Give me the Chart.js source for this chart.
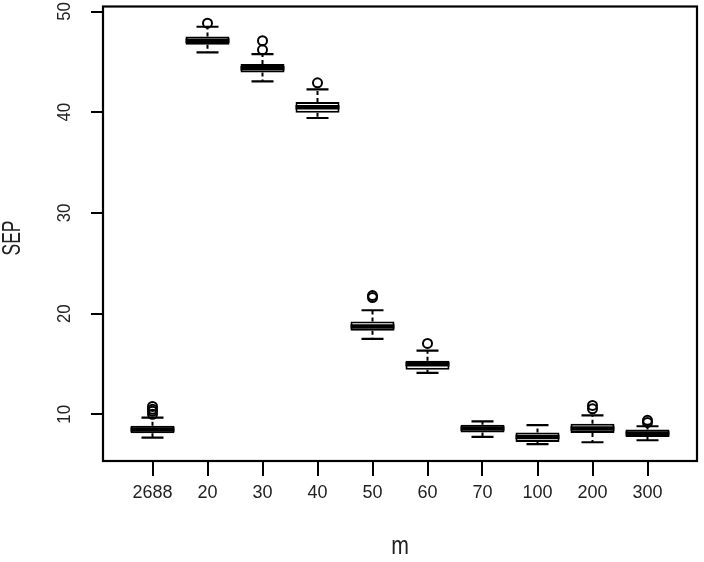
<!DOCTYPE html>
<html lang="en">
<head>
  <meta charset="UTF-8" />
  <title>SEP by m</title>
  <script src="https://cdn.jsdelivr.net/npm/chart.js"></script>
  <style>
    html, body {
      margin: 0;
      padding: 0;
      background: #fff;
    }
    #chart-container {
      width: 704px;
      height: 562px;
    }
  </style>
</head>
<body>
  <div id="chart-container">
    <canvas id="sepChart"></canvas>
  </div>

  <script>
    // values, one entry per m
    const categories = ['2688', '20', '30', '40', '50', '60', '70', '100', '200', '300'];
    const whiskerLow = [7.70, 45.95, 43.06, 39.43, 17.50, 14.12, 7.76, 7.04, 7.23, 7.43];
    const boxQ1 = [8.12, 46.71, 43.95, 39.96, 18.30, 14.44, 8.19, 7.26, 8.16, 7.76];
    const boxMedian = [8.50, 47.10, 44.37, 40.49, 18.72, 14.97, 8.60, 7.76, 8.60, 8.10];
    const boxQ3 = [8.87, 47.53, 44.80, 41.01, 19.22, 15.33, 8.98, 8.19, 9.08, 8.49];
    const whiskerHigh = [9.67, 48.49, 45.78, 42.27, 20.34, 16.32, 9.31, 8.94, 9.90, 8.82];
    const outliers = [
      [10.0, 10.3, 10.5, 10.79],
      [48.84],
      [46.2, 47.1],
      [42.92],
      [21.6, 21.8],
      [17.04],
      [],
      [],
      [10.55, 10.89],
      [9.2, 9.41]
    ];
    const yTicks = [10, 20, 30, 40, 50];

    const FONT = 'Liberation Sans, Arial, sans-serif';
    const INK = '#000';
    const TEXT = '#222';

    const boxData = categories.map((c, i) => ({ x: i + 1, y: [boxQ1[i], boxQ3[i]] }));
    const outlierData = [];
    outliers.forEach((list, i) => list.forEach(v => outlierData.push({ x: i + 1, y: v })));

    // text squeezed sideways like the R device output
    function squeezedText(ctx, text, x, y, size, sx, angle) {
      ctx.save();
      ctx.translate(x, y);
      ctx.rotate(angle);
      ctx.scale(sx, 1);
      ctx.font = size + 'px ' + FONT;
      ctx.fillText(text, 0, 0);
      ctx.restore();
    }

    // whiskers, medians, frame and rotated texts (R style)
    const boxplotExtras = {
      id: 'boxplotExtras',
      afterDatasetsDraw(chart) {
        const { ctx, scales: { x, y } } = chart;
        const meta = chart.getDatasetMeta(0);
        ctx.save();
        ctx.strokeStyle = INK;
        categories.forEach((c, i) => {
          const cx = x.getPixelForValue(i + 1);
          const half = meta.data[i].width / 2;
          const cap = half / 2;
          // dashed whisker stems
          ctx.lineWidth = 2;
          ctx.setLineDash([4, 3]);
          ctx.beginPath();
          ctx.moveTo(cx, y.getPixelForValue(boxQ3[i]));
          ctx.lineTo(cx, y.getPixelForValue(whiskerHigh[i]));
          ctx.moveTo(cx, y.getPixelForValue(boxQ1[i]));
          ctx.lineTo(cx, y.getPixelForValue(whiskerLow[i]));
          ctx.stroke();
          ctx.setLineDash([]);
          // staples
          ctx.lineWidth = 2.2;
          ctx.beginPath();
          [whiskerHigh[i], whiskerLow[i]].forEach(v => {
            const py = y.getPixelForValue(v);
            ctx.moveTo(cx - cap, py);
            ctx.lineTo(cx + cap, py);
          });
          ctx.stroke();
          // median
          ctx.lineWidth = 4.5;
          ctx.beginPath();
          const my = y.getPixelForValue(boxMedian[i]);
          ctx.moveTo(cx - half, my);
          ctx.lineTo(cx + half, my);
          ctx.stroke();
        });
        ctx.restore();
      },
      afterDraw(chart) {
        const { ctx, chartArea: a, scales: { y } } = chart;
        ctx.save();
        ctx.strokeStyle = INK;
        ctx.lineWidth = 2.2;
        ctx.strokeRect(a.left, a.top, a.right - a.left, a.bottom - a.top);

        ctx.fillStyle = TEXT;
        ctx.textAlign = 'center';
        ctx.textBaseline = 'middle';
        yTicks.forEach(v => {
          squeezedText(ctx, String(v), 65, y.getPixelForValue(v), 19, 0.88, -Math.PI / 2);
        });
        squeezedText(ctx, 'SEP', 13, 238, 25, 0.7, -Math.PI / 2);
        squeezedText(ctx, 'm', (a.left + a.right) / 2, 547, 25, 0.85, 0);
        ctx.restore();
      }
    };

    const ctx = document.getElementById('sepChart').getContext('2d');
    const sepChart = new Chart(ctx, {
      type: 'bar',
      data: {
        datasets: [
          {
            type: 'bar',
            data: boxData,
            backgroundColor: '#fff',
            borderColor: INK,
            borderWidth: 2,
            borderSkipped: false,
            barPercentage: 0.8,
            categoryPercentage: 1,
            order: 2
          },
          {
            type: 'scatter',
            data: outlierData,
            pointStyle: 'circle',
            pointRadius: 4.5,
            pointBackgroundColor: 'rgba(0,0,0,0)',
            pointBorderColor: INK,
            pointBorderWidth: 2,
            order: 1
          }
        ]
      },
      options: {
        responsive: true,
        maintainAspectRatio: false,
        animation: false,
        layout: { padding: { top: 3, right: 7, left: 0, bottom: 0 } },
        plugins: {
          legend: { display: false },
          tooltip: { enabled: false }
        },
        scales: {
          x: {
            type: 'linear',
            offset: false,
            min: 0.1,
            max: 10.9,
            afterBuildTicks: s => { s.ticks = categories.map((c, i) => ({ value: i + 1 })); },
            afterFit: s => { s.height = 101; },
            ticks: {
              callback: v => categories[v - 1],
              autoSkip: false,
              maxRotation: 0,
              padding: 6,
              color: TEXT,
              font: { family: FONT, size: 18 }
            },
            grid: {
              offset: false,
              drawOnChartArea: false,
              drawTicks: true,
              tickLength: 15,
              color: INK,
              lineWidth: 2
            },
            border: { display: false }
          },
          y: {
            type: 'linear',
            min: 5.37,
            max: 50.5,
            afterBuildTicks: s => { s.ticks = yTicks.map(v => ({ value: v })); },
            afterFit: s => { s.width = 103; },
            ticks: { display: false },
            grid: {
              drawOnChartArea: false,
              drawTicks: true,
              tickLength: 12,
              color: INK,
              lineWidth: 2
            },
            border: { display: false }
          }
        }
      },
      plugins: [boxplotExtras]
    });
  </script>
</body>
</html>
